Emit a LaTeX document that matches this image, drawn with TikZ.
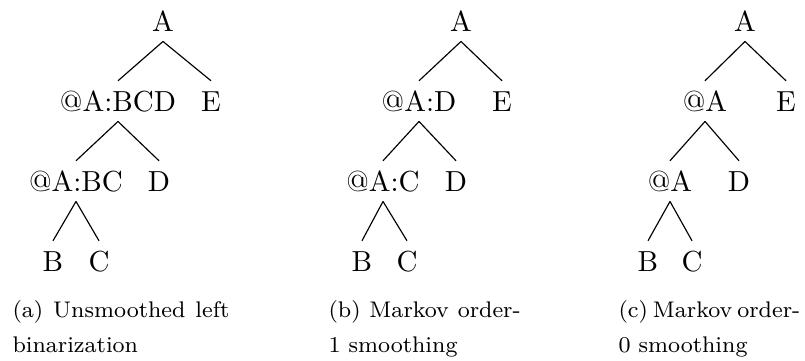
\documentclass[tikz,border=0pt]{standalone}
\usepackage{tikz}

\begin{document}
\begin{tikzpicture}[
  x=0.3448pt, y=-0.3448pt,
  tn/.style={anchor=base, inner sep=3.4pt,
    text height=6.83pt, text depth=0pt,
    font=\fontsize{10}{12}\selectfont},
  br/.style={line width=0.4pt},
  captext/.style={anchor=base west, inner sep=0pt, align=justify,
    font=\fontsize{7.8}{12.4}\selectfont},
]
\useasboundingbox (0,0) rectangle (805,360);

%% TREE (a) — unsmoothed left binarization
\node[tn] (aA)   at (163, 31) {A};
\node[tn] (aBCD) at (118,111) {@A:BCD};
\node[tn] (aE)   at (211,111) {E};
\node[tn] (aBC)  at ( 76,191) {@A:BC};
\node[tn] (aD)   at (159,191) {D};
\node[tn] (aB)   at ( 53,271) {B};
\node[tn] (aC)   at ( 99,271) {C};
\draw[br] (aA.south) -- (aBCD.north);
\draw[br] (aA.south) -- (aE.north);
\draw[br] (aBCD.south) -- (aBC.north);
\draw[br] (aBCD.south) -- (aD.north);
\draw[br] (aBC.south) -- (aB.north);
\draw[br] (aBC.south) -- (aC.north);

%% TREE (b) — Markov order-1
\node[tn] (bA)  at (461, 31) {A};
\node[tn] (bAD) at (419,111) {@A:D};
\node[tn] (bE)  at (502,111) {E};
\node[tn] (bAC) at (383,191) {@A:C};
\node[tn] (bD)  at (456,191) {D};
\node[tn] (bB)  at (362,271) {B};
\node[tn] (bC)  at (407,271) {C};
\draw[br] (bA.south) -- (bAD.north);
\draw[br] (bA.south) -- (bE.north);
\draw[br] (bAD.south) -- (bAC.north);
\draw[br] (bAD.south) -- (bD.north);
\draw[br] (bAC.south) -- (bB.north);
\draw[br] (bAC.south) -- (bC.north);

%% TREE (c) — Markov order-0
\node[tn] (cA)   at (745, 31) {A};
\node[tn] (cAt)  at (705,111) {@A};
\node[tn] (cE)   at (786,111) {E};
\node[tn] (cAb)  at (670,191) {@A};
\node[tn] (cD)   at (739,191) {D};
\node[tn] (cB)   at (648,271) {B};
\node[tn] (cC)   at (692,271) {C};
\draw[br] (cA.south) -- (cAt.north);
\draw[br] (cA.south) -- (cE.north);
\draw[br] (cAt.south) -- (cAb.north);
\draw[br] (cAt.south) -- (cD.north);
\draw[br] (cAb.south) -- (cB.north);
\draw[br] (cAb.south) -- (cC.north);

%% CAPTIONS
\node[captext, text width=74.8pt] (capa) at ( 12,317)
  {(a) Unsmoothed left\linebreak binarization};
\node[captext, text width=66.2pt] (capb) at (328,317)
  {(b) Markov order-\linebreak 1 smoothing};
\node[captext, text width=62.6pt] (capc) at (618,317)
  {\spaceskip=1.6pt plus 3pt minus 0.5pt
   (c) Markov order-\linebreak\spaceskip=0pt 0 smoothing};

\end{tikzpicture}
\end{document}
